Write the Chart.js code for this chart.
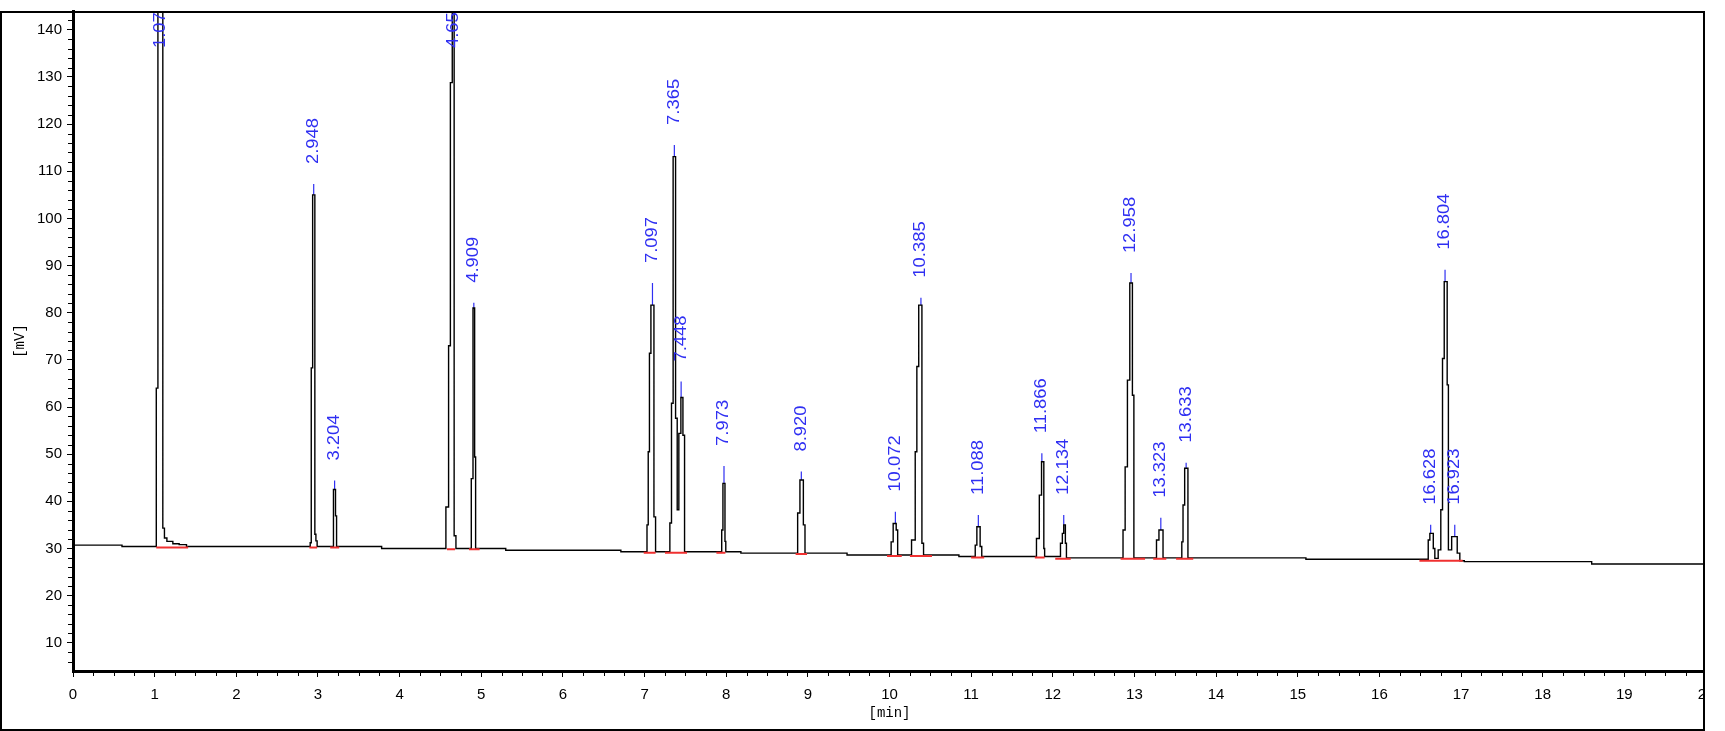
<!DOCTYPE html>
<html>
<head>
<meta charset="utf-8">
<title>Chromatogram</title>
<script src="https://cdn.jsdelivr.net/npm/chart.js@4.4.1/dist/chart.umd.min.js"></script>
<style>
  html, body { margin: 0; padding: 0; background: #fff; }
  #wrap { position: absolute; left: 0; top: 0; width: 1705px; height: 731px; overflow: hidden; }
  #wrap canvas { display: block; }
  #frame { position: absolute; left: 0; top: 11px; width: 1701px; height: 716px; border: 2px solid #000; pointer-events: none; }
</style>
</head>
<body>
<div id="wrap"><canvas id="chromChart" width="1760" height="731"></canvas></div>
<div id="frame"></div>
<script>
  'use strict';

  // detector trace, as a step list: time [min] where the signal changes, new signal [mV]
  const traceTime = [
    0, 0.60, 1.020, 1.040, 1.100, 1.120, 1.150, 1.223, 1.300, 1.390,
    2.905, 2.918, 2.935, 2.962, 2.975, 2.990, 3.190, 3.215, 3.228, 3.780,
    4.567, 4.600, 4.622, 4.645, 4.668, 4.690, 4.878, 4.899, 4.919, 4.931,
    5.300, 6.710, 7.030, 7.045, 7.060, 7.078, 7.115, 7.135,
    7.310, 7.330, 7.350, 7.380, 7.400, 7.420, 7.445, 7.470, 7.490,
    7.945, 7.960, 7.985, 7.995, 8.180, 8.875, 8.903, 8.945, 8.965, 9.480,
    10.020, 10.045, 10.082, 10.100, 10.270, 10.315, 10.335, 10.358, 10.397, 10.417,
    10.850, 11.050, 11.070, 11.110, 11.130, 11.800, 11.835, 11.862, 11.890, 11.900,
    12.094, 12.117, 12.134, 12.154, 12.167, 12.860, 12.886, 12.914, 12.943, 12.975, 12.993,
    13.270, 13.300, 13.350, 13.580, 13.595, 13.615, 13.655, 15.100,
    16.598, 16.618, 16.660, 16.679, 16.720, 16.752, 16.773, 16.794, 16.830, 16.845,
    16.885, 16.953, 16.985, 17.040, 18.600, 20.000
  ];
  const traceSignal = [
    30.7, 30.4, 64.0, 320, 34.3, 32.2, 31.5, 31.0, 30.8, 30.4,
    31.2, 68.3, 105.0, 33.0, 31.6, 30.4, 42.5, 36.9, 30.4, 30.0,
    38.8, 73.0, 128.8, 260, 32.7, 30.0, 44.8, 81.0, 49.4, 30.0,
    29.6, 29.3, 35.0, 50.5, 71.4, 81.6, 36.7, 29.3,
    35.4, 60.8, 113.1, 57.6, 38.2, 54.4, 62.0, 54.0, 29.3,
    33.9, 43.8, 31.5, 29.3, 29.0, 37.5, 44.5, 35.0, 29.0, 28.6,
    31.4, 35.3, 33.9, 28.6, 31.8, 50.5, 68.6, 81.6, 31.1, 28.6,
    28.3, 30.7, 34.6, 30.4, 28.3, 32.1, 41.3, 48.4, 30.0, 28.3,
    31.1, 33.2, 35.0, 31.1, 28.0, 33.9, 47.3, 65.7, 86.3, 62.5, 28.0,
    31.8, 33.9, 28.0, 31.4, 39.2, 47.0, 28.0, 27.7,
    31.8, 33.2, 30.0, 27.9, 29.7, 38.2, 70.3, 86.6, 64.7, 29.7,
    32.5, 29.0, 27.4, 27.2, 26.7, 26.7
  ];

  // integration baselines (red)
  const baseStart = [1.02, 2.895, 3.15, 4.58, 4.85, 6.99, 7.25, 7.88, 8.85, 9.97, 10.25, 11.00, 11.78, 12.03, 12.83, 13.23, 13.51, 16.49];
  const baseEnd   = [1.41, 2.99, 3.26, 4.68, 4.98, 7.135, 7.52, 7.99, 8.99, 10.15, 10.52, 11.16, 11.90, 12.22, 13.13, 13.39, 13.72, 17.02];
  const baseLevel = [30.2, 30.2, 30.2, 29.8, 29.8, 29.1, 29.1, 29.1, 28.8, 28.4, 28.4, 28.1, 28.1, 27.8, 27.8, 27.8, 27.8, 27.4];

  // peak retention times and the top of each peak marker
  const peakTimes  = [1.073, 2.948, 3.204, 4.656, 4.909, 7.097, 7.365, 7.448, 7.973, 8.920, 10.072,
                      10.385, 11.088, 11.866, 12.134, 12.958, 13.323, 13.633, 16.628, 16.804, 16.923];
  const peakTops   = [310, 107.3, 44.4, 250, 82.1, 86.3, 115.6, 65.4, 47.5, 46.3, 37.8,
                      83.2, 37.1, 50.2, 37.1, 88.4, 36.5, 48.2, 35.0, 89.1, 35.0];
  const peakLabels = ['1.073', '2.948', '3.204', '4.656', '4.909', '7.097', '7.365', '7.448', '7.973', '8.920', '10.072',
                      '10.385', '11.088', '11.866', '12.134', '12.958', '13.323', '13.633', '16.628', '16.804', '16.923'];

  // axis ticks
  const xTickValues = [0, 1, 2, 3, 4, 5, 6, 7, 8, 9, 10, 11, 12, 13, 14, 15, 16, 17, 18, 19, 20];
  const yTickValues = [10, 20, 30, 40, 50, 60, 70, 80, 90, 100, 110, 120, 130, 140];
  const xMinorStep = 0.25;
  const yMinorStep = 2;
  const BLUE = '#2f2ff2';

  const traceData = traceTime.map((t, i) => ({ x: t, y: traceSignal[i] }));
  const baseData = [];
  baseStart.forEach((t, i) => {
    baseData.push({ x: t, y: baseLevel[i] }, { x: baseEnd[i], y: baseLevel[i] }, { x: baseEnd[i], y: null });
  });

  // highest trace value close to a peak time
  function apexNear(t) {
    let top = -Infinity;
    traceTime.forEach((tt, i) => {
      if (Math.abs(tt - t) < 0.04) top = Math.max(top, traceSignal[i]);
    });
    return top;
  }

  function clipToArea(ctx, area) {
    ctx.beginPath();
    ctx.rect(area.left, area.top, area.right - area.left, area.bottom - area.top);
    ctx.clip();
  }

  // blue apex ticks and rotated retention time labels
  const peakMarks = {
    id: 'peakMarks',
    beforeDatasetsDraw(chart) {
      const { ctx, chartArea, scales: { x, y } } = chart;
      ctx.save();
      clipToArea(ctx, chartArea);
      ctx.strokeStyle = BLUE;
      ctx.lineWidth = 1.2;
      peakTimes.forEach((t, i) => {
        if (peakTops[i] > y.max) return;
        const px = x.getPixelForValue(t);
        const py = y.getPixelForValue(peakTops[i]);
        const pa = Math.max(y.getPixelForValue(apexNear(t)), py + 6);
        ctx.beginPath();
        ctx.moveTo(px, py);
        ctx.lineTo(px, pa);
        ctx.stroke();
      });
      ctx.restore();
    },
    afterDatasetsDraw(chart) {
      const { ctx, chartArea, scales: { x, y } } = chart;
      ctx.save();
      clipToArea(ctx, chartArea);
      ctx.fillStyle = BLUE;
      ctx.font = '16px "Liberation Sans", Arial, sans-serif';
      ctx.textAlign = 'left';
      ctx.textBaseline = 'middle';
      peakTimes.forEach((t, i) => {
        const px = x.getPixelForValue(t);
        const end = peakTops[i] > y.max ? chartArea.top + 37 : y.getPixelForValue(peakTops[i]) - 20;
        ctx.save();
        ctx.translate(px, end);
        ctx.rotate(-Math.PI / 2);
        ctx.scale(1.15, 1);
        ctx.fillText(peakLabels[i], 0, 0);
        ctx.restore();
      });
      ctx.restore();
    }
  };

  // small unlabelled ticks between the major ones
  const minorTicks = {
    id: 'minorTicks',
    afterDraw(chart) {
      const { ctx, scales: { x, y } } = chart;
      ctx.save();
      ctx.strokeStyle = '#000';
      ctx.lineWidth = 1;
      ctx.beginPath();
      for (let v = y.min + yMinorStep; v < y.max; v += yMinorStep) {
        if (v % 10 === 0) continue;
        const py = Math.round(y.getPixelForValue(v)) + 0.5;
        ctx.moveTo(y.right - 5, py);
        ctx.lineTo(y.right - 1, py);
      }
      for (let t = xMinorStep; t < x.max; t += xMinorStep) {
        if (t % 1 === 0) continue;
        const px = Math.round(x.getPixelForValue(t)) + 0.5;
        ctx.moveTo(px, x.top + 1);
        ctx.lineTo(px, x.top + 5);
      }
      ctx.stroke();
      ctx.restore();
    }
  };

  const tickFont = { family: '"Liberation Sans", Arial, sans-serif', size: 15 };
  const titleFont = { family: '"Liberation Mono", "Courier New", monospace', size: 14 };

  new Chart(document.getElementById('chromChart'), {
    type: 'line',
    data: {
      datasets: [{
        label: 'Baseline',
        data: baseData,
        borderColor: '#f03030',
        borderWidth: 2,
        pointRadius: 0,
        spanGaps: false,
        order: 0
      }, {
        label: 'Signal',
        data: traceData,
        borderColor: '#000',
        borderWidth: 1.4,
        pointRadius: 0,
        stepped: 'before',
        order: 1
      }]
    },
    options: {
      responsive: false,
      animation: false,
      events: [],
      layout: { padding: { top: 11, left: 0, right: 54, bottom: 0 } },
      plugins: {
        legend: { display: false },
        tooltip: { enabled: false }
      },
      scales: {
        x: {
          type: 'linear',
          min: 0,
          max: 20,
          afterBuildTicks(scale) {
            scale.ticks = xTickValues.map(v => ({ value: v }));
          },
          ticks: { color: '#000', font: tickFont, padding: 9, maxRotation: 0, autoSkip: false },
          grid: { drawOnChartArea: false, drawTicks: true, tickLength: 6, tickColor: '#000', tickWidth: 1 },
          border: { display: true, color: '#000', width: 3 },
          title: { display: true, text: '[min]', color: '#000', font: titleFont, padding: { top: 0, bottom: 9 } },
          afterFit(scale) {
            scale.height = 60;
            scale.paddingLeft = 0;
            scale.paddingRight = 0;
          }
        },
        y: {
          min: 4,
          max: 144,
          afterBuildTicks(scale) {
            scale.ticks = yTickValues.map(v => ({ value: v }));
          },
          ticks: { color: '#000', font: tickFont, padding: 5, autoSkip: false },
          grid: { drawOnChartArea: false, drawTicks: true, tickLength: 6, tickColor: '#000', tickWidth: 1 },
          border: { display: true, color: '#000', width: 3 },
          title: { display: true, text: '[mV]', color: '#000', font: titleFont, padding: { top: 12, bottom: 0 } },
          afterFit(scale) {
            scale.width = 73;
            scale.paddingTop = 0;
            scale.paddingBottom = 0;
          }
        }
      }
    },
    plugins: [peakMarks, minorTicks]
  });
</script>
</body>
</html>
